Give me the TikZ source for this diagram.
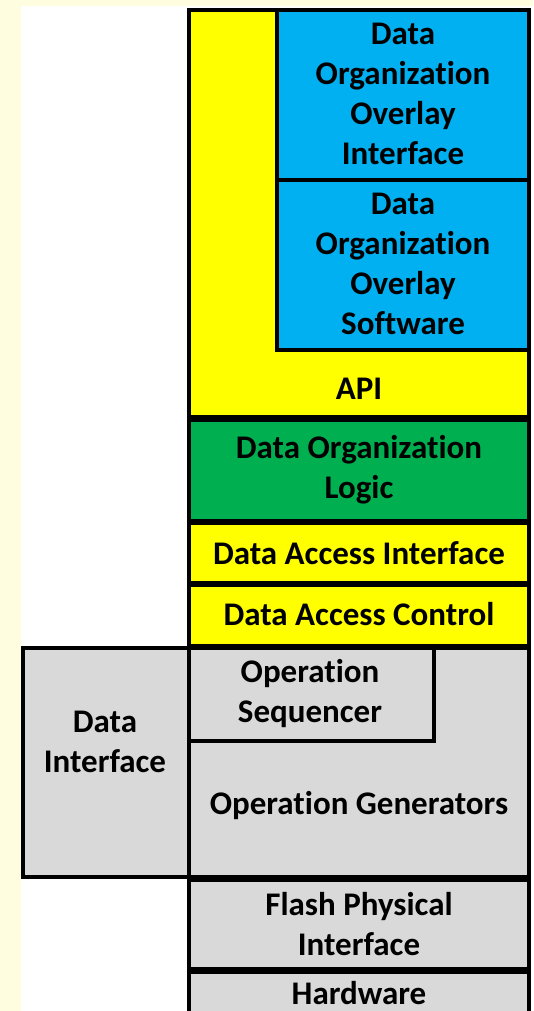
\documentclass[tikz,border=0pt]{standalone}
\usepackage{fontspec}
\setmainfont[Ligatures=NoCommon]{Carlito}
\definecolor{paper}{HTML}{FFFDE0}
\definecolor{ybox}{HTML}{FFFF00}
\definecolor{bbox}{HTML}{00B0F0}
\definecolor{gbox}{HTML}{00B050}
\definecolor{kbox}{HTML}{D9D9D9}
\tikzset{
  blk/.style={draw=black, line width=3.6pt, rectangle, inner sep=0pt, outer sep=0pt},
  lbl/.style={align=center, font=\bfseries\fontsize{33}{40}\selectfont, inner sep=0pt}
}
\begin{document}
\begin{tikzpicture}[x=1pt,y=-1pt]
  % page and canvas
  \useasboundingbox (0,0) rectangle (533,1011);
  \fill[paper] (0,0) rectangle (533,1011);
  \fill[white] (21,6) rectangle (533,1011);
  \begin{scope}
    \clip (0,0) rectangle (533,1011);
    % upper stack
    \node[blk, fill=ybox, minimum width=340pt, minimum height=407pt] (api) at (359,213.5) {};
    \node[blk, fill=bbox, minimum width=252pt, minimum height=170pt] (dooi) at (403,95) {};
    \node[blk, fill=bbox, minimum width=252pt, minimum height=170pt] (doos) at (403,265) {};
    \node[lbl] (dooit) at (403,94) {Data\\Organization\\Overlay\\Interface};
    \node[lbl] (doost) at (403,264) {Data\\Organization\\Overlay\\Software};
    \node[lbl] (apit) at (359,389) {API};
    \node[blk, fill=gbox, minimum width=340pt, minimum height=101pt] (dol) at (359,470.5) {};
    \node[lbl] (dolt) at (359,470) {Data Organization\\Logic};
    \node[blk, fill=ybox, minimum width=340pt, minimum height=60pt] (dai) at (359,553) {};
    \node[lbl] (dait) at (dai.center) {Data Access Interface};
    \node[blk, fill=ybox, minimum width=340pt, minimum height=61pt] (dac) at (359,615.5) {};
    \node[lbl] (dact) at (359,614) {Data Access Control};
    % lower stack
    \node[blk, fill=kbox, minimum width=166pt, minimum height=229pt] (dif) at (106,762.5) {};
    \node[lbl] (dift) at (105,742) {Data\\Interface};
    \node[blk, fill=kbox, minimum width=340pt, minimum height=229pt] (opg) at (359,762.5) {};
    \node[blk, fill=kbox, minimum width=245pt, minimum height=93pt] (seq) at (311.5,694.5) {};
    \node[lbl] (seqt) at (310,694) {Operation\\Sequencer};
    \node[lbl] (opgt) at (359,806) {Operation Generators};
    \node[blk, fill=kbox, minimum width=340pt, minimum height=89pt] (fpi) at (359,924.5) {};
    \node[lbl] (fpit) at (359,924) {Flash Physical\\Interface};
    \node[blk, fill=kbox, minimum width=340pt, minimum height=58pt] (hw) at (359,1001) {};
    \node[lbl] (hwt) at (359,993) {Hardware};
  \end{scope}
\end{tikzpicture}
\end{document}
